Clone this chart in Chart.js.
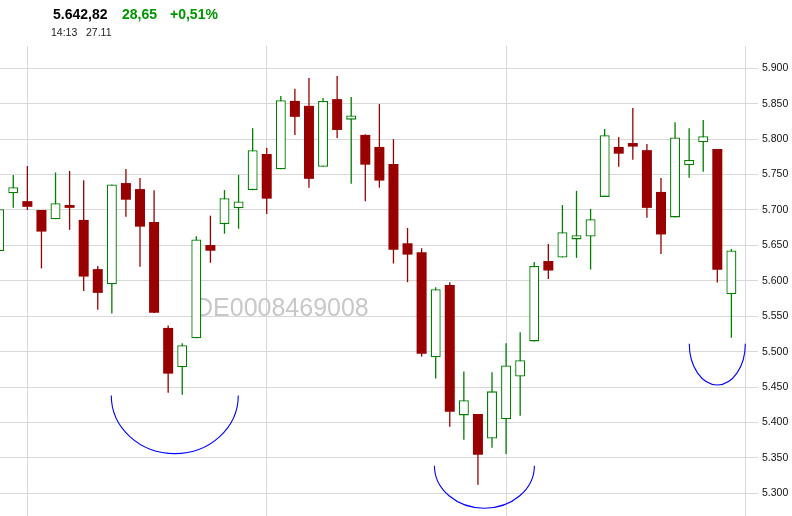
<!DOCTYPE html>
<html>
<head>
<meta charset="utf-8">
<title>DE0008469008</title>
<script src="https://cdn.jsdelivr.net/npm/chart.js@4.4.1/dist/chart.umd.min.js"></script>
<style>
  body { margin: 0; background: #fff; font-family: "Liberation Sans", Arial, sans-serif; }
  #wrap { position: relative; width: 792px; height: 516px; overflow: hidden; }
  #chart { position: absolute; left: 0; top: 0; }
  .hd { position: absolute; white-space: nowrap; }
  .big { top: 7px; font: bold 14px/14px "Liberation Sans", Arial, sans-serif; }
  .small { top: 27px; font: 10.5px/10.5px "Liberation Sans", Arial, sans-serif; color: #222; }
</style>
</head>
<body>
<div id="wrap">
  <canvas id="chart" width="792" height="516"></canvas>
  <div class="hd big" style="left:53px;color:#000">5.642,82</div>
  <div class="hd big" style="left:122px;color:#009600">28,65</div>
  <div class="hd big" style="left:170px;color:#009600">+0,51%</div>
  <div class="hd small" style="left:51px">14:13</div>
  <div class="hd small" style="left:86px">27.11</div>
</div>
<script>
// daily candles
const openVals  = [5642, 5723.5, 5712.5, 5700, 5687, 5707, 5686, 5616.5, 5595, 5738, 5729.5, 5683, 5533.5, 5478, 5519, 5650.5, 5680, 5702.5, 5728, 5779, 5757.5, 5854, 5847, 5761, 5856.5, 5827.5, 5806, 5789, 5765, 5653, 5640.5, 5492, 5594, 5410, 5412, 5377.5, 5404.5, 5465, 5514.5, 5628, 5633, 5658.5, 5662.5, 5718.5, 5789, 5794.5, 5784.5, 5725.5, 5689.5, 5763, 5795.5, 5786, 5581];
const highVals  = [5701, 5749.5, 5762, 5700, 5753, 5755, 5742, 5621, 5736, 5758, 5745, 5728, 5537, 5512, 5663, 5692, 5728, 5749.5, 5815.5, 5787.5, 5861, 5871, 5886.5, 5858, 5889, 5859.5, 5807, 5849.5, 5800, 5674.5, 5646, 5591, 5598, 5472, 5412, 5471, 5512, 5527.5, 5626.5, 5652, 5707, 5727, 5701.5, 5814.5, 5803, 5844, 5793, 5745, 5824, 5815.5, 5827, 5786, 5645];
const lowVals   = [5642, 5703, 5700, 5617.5, 5687, 5672, 5585.5, 5559, 5554, 5690.5, 5620, 5554.5, 5442, 5439, 5519, 5625.5, 5666.5, 5673.5, 5728, 5694.5, 5757.5, 5806, 5731.5, 5761, 5801.5, 5737, 5712.5, 5731.5, 5624.5, 5598, 5493, 5462, 5394, 5375.5, 5312, 5364.5, 5355.5, 5409.5, 5514.5, 5602.5, 5633, 5632.5, 5616, 5718.5, 5761, 5771, 5689, 5638, 5689.5, 5745.5, 5754, 5597.5, 5519.5];
const closeVals = [5701, 5732, 5704.5, 5669.5, 5709.5, 5703, 5606, 5583, 5736, 5714.5, 5676.5, 5555, 5469, 5509, 5658.5, 5642.5, 5716.5, 5712, 5784.5, 5716, 5855, 5831.5, 5744, 5854, 5813, 5833.5, 5764, 5741.5, 5644, 5637, 5497, 5588, 5415, 5431.5, 5354.5, 5444, 5480.5, 5488, 5621, 5614.5, 5668.5, 5664.5, 5687, 5805.5, 5779.5, 5789.5, 5703, 5665.5, 5802.5, 5770.5, 5804, 5615.5, 5642.82];
const days = openVals.map((_, i) => i);

const yTicks = [5300, 5350, 5400, 5450, 5500, 5550, 5600, 5650, 5700, 5750, 5800, 5850, 5900];
const xGrid = [2, 19, 36, 53];   // vertical grid lines, by candle index
const watermark = 'DE0008469008';

// hand drawn bowls (centre in candle index / price, radius in candles / points)
const arcs = [
  { x: 12.47, y: 5438, rx: 4.51, ry: 82 },
  { x: 34.46, y: 5339, rx: 3.55, ry: 60 },
  { x: 51.0,  y: 5511, rx: 1.99, ry: 58 }
];

const GREEN = '#007f00';
const RED = '#990000';
const up = i => closeVals[i] >= openVals[i];

const marks = {
  id: 'marks',
  beforeDatasetsDraw(chart) {
    const ctx = chart.ctx;
    ctx.save();
    ctx.font = '25px "Liberation Sans", Arial, sans-serif';
    ctx.fillStyle = '#c8c8c8';
    ctx.textBaseline = 'alphabetic';
    ctx.fillText(watermark, 195, 316);
    ctx.restore();
  },
  afterDatasetsDraw(chart) {
    const { ctx, scales: { x, y } } = chart;
    ctx.save();
    ctx.strokeStyle = '#0000ff';
    ctx.lineWidth = 1.1;
    arcs.forEach(a => {
      const cx = x.getPixelForValue(a.x);
      const cy = y.getPixelForValue(a.y);
      const rx = x.getPixelForValue(a.x + a.rx) - cx;
      const ry = y.getPixelForValue(a.y - a.ry) - cy;
      ctx.beginPath();
      ctx.ellipse(cx, cy, rx, ry, 0, 0, Math.PI);
      ctx.stroke();
    });
    ctx.restore();
  }
};

new Chart(document.getElementById('chart'), {
  type: 'bar',
  data: {
    datasets: [
      {
        label: 'body',
        order: 0,
        grouped: false,
        barThickness: 10,
        borderWidth: c => up(c.dataIndex) ? 1.3 : 0,
        borderSkipped: false,
        inflateAmount: 0,
        data: days.map(i => ({ x: i, y: [openVals[i], closeVals[i]] })),
        backgroundColor: c => up(c.dataIndex) ? '#ffffff' : RED,
        borderColor: c => up(c.dataIndex) ? GREEN : RED
      },
      {
        label: 'wick',
        order: 1,
        grouped: false,
        barThickness: 1.3,
        borderWidth: 0,
        inflateAmount: 0,
        data: days.map(i => ({ x: i, y: [lowVals[i], highVals[i]] })),
        backgroundColor: c => up(c.dataIndex) ? GREEN : RED
      }
    ]
  },
  options: {
    responsive: false,
    animation: false,
    devicePixelRatio: 1,
    layout: { padding: { top: 46, left: 0, right: 0, bottom: 0 } },
    plugins: { legend: { display: false }, tooltip: { enabled: false } },
    scales: {
      x: {
        type: 'linear',
        min: 0.057,
        max: 53.89,
        offset: false,
        grid: { color: '#d9d9d9', drawTicks: false, offset: false },
        border: { display: false },
        ticks: { display: false },
        afterBuildTicks: s => { s.ticks = xGrid.map(v => ({ value: v })); },
        afterFit: s => { s.height = 0; s.paddingLeft = 0; s.paddingRight = 0; }
      },
      y: {
        position: 'right',
        min: 5268,
        max: 5931.5,
        grid: { color: '#d9d9d9', drawTicks: false },
        border: { display: false },
        ticks: {
          padding: 4,
          color: '#111',
          font: { family: '"Liberation Sans", Arial, sans-serif', size: 10.5 },
          callback: v => v.toLocaleString('de-DE')
        },
        afterBuildTicks: s => { s.ticks = yTicks.map(v => ({ value: v })); },
        afterFit: s => { s.width = 34; s.paddingTop = 0; s.paddingBottom = 0; }
      }
    }
  },
  plugins: [marks]
});
</script>
</body>
</html>
